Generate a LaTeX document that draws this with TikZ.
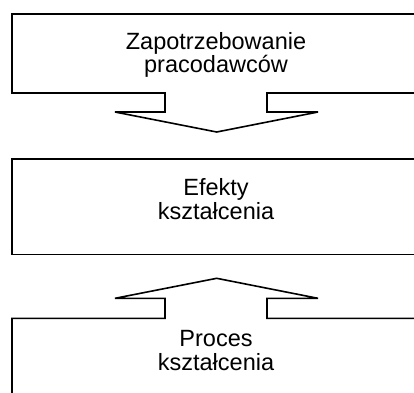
\documentclass[tikz,border=0pt]{standalone}
\usepackage{fontspec}
\setmainfont{Liberation Sans}
\begin{document}
\begin{tikzpicture}[x=1pt,y=-1pt,
  outline/.style={draw=black,line width=1.6pt,line join=miter},
  lbl/.style={anchor=base,inner sep=0pt,font=\fontsize{23.5}{24}\selectfont}]
\useasboundingbox (0,0) rectangle (414,392);
\clip (0,0) rectangle (414,392);
% top box merged with downward arrow
\draw[outline] (12,14) -- (422,14) -- (422,93) -- (267,93) -- (267,112) -- (318,112)
  -- (216.7,132) -- (115,112) -- (165,112) -- (165,93) -- (12,93) -- cycle;
% middle box
\draw[outline] (12,159) rectangle (422,254.3);
% bottom box merged with upward arrow
\draw[outline] (12,400) -- (12,318.3) -- (165,318.3) -- (165,298.3) -- (115,298.3)
  -- (216.7,278.3) -- (318,298.3) -- (267,298.3) -- (267,318.3) -- (422,318.3) -- (422,400);
% texts
\node[lbl] (z1) at (216,49.3) {Zapotrzebowanie};
\node[lbl] (z2) at (216,72.3) {pracodawców};
\node[lbl] (e1) at (216,195) {Efekty};
\node[lbl] (e2) at (216,219.3) {kształcenia};
\node[lbl] (p1) at (216,346.7) {Proces};
\node[lbl] (p2) at (216,370) {kształcenia};
\end{tikzpicture}
\end{document}
